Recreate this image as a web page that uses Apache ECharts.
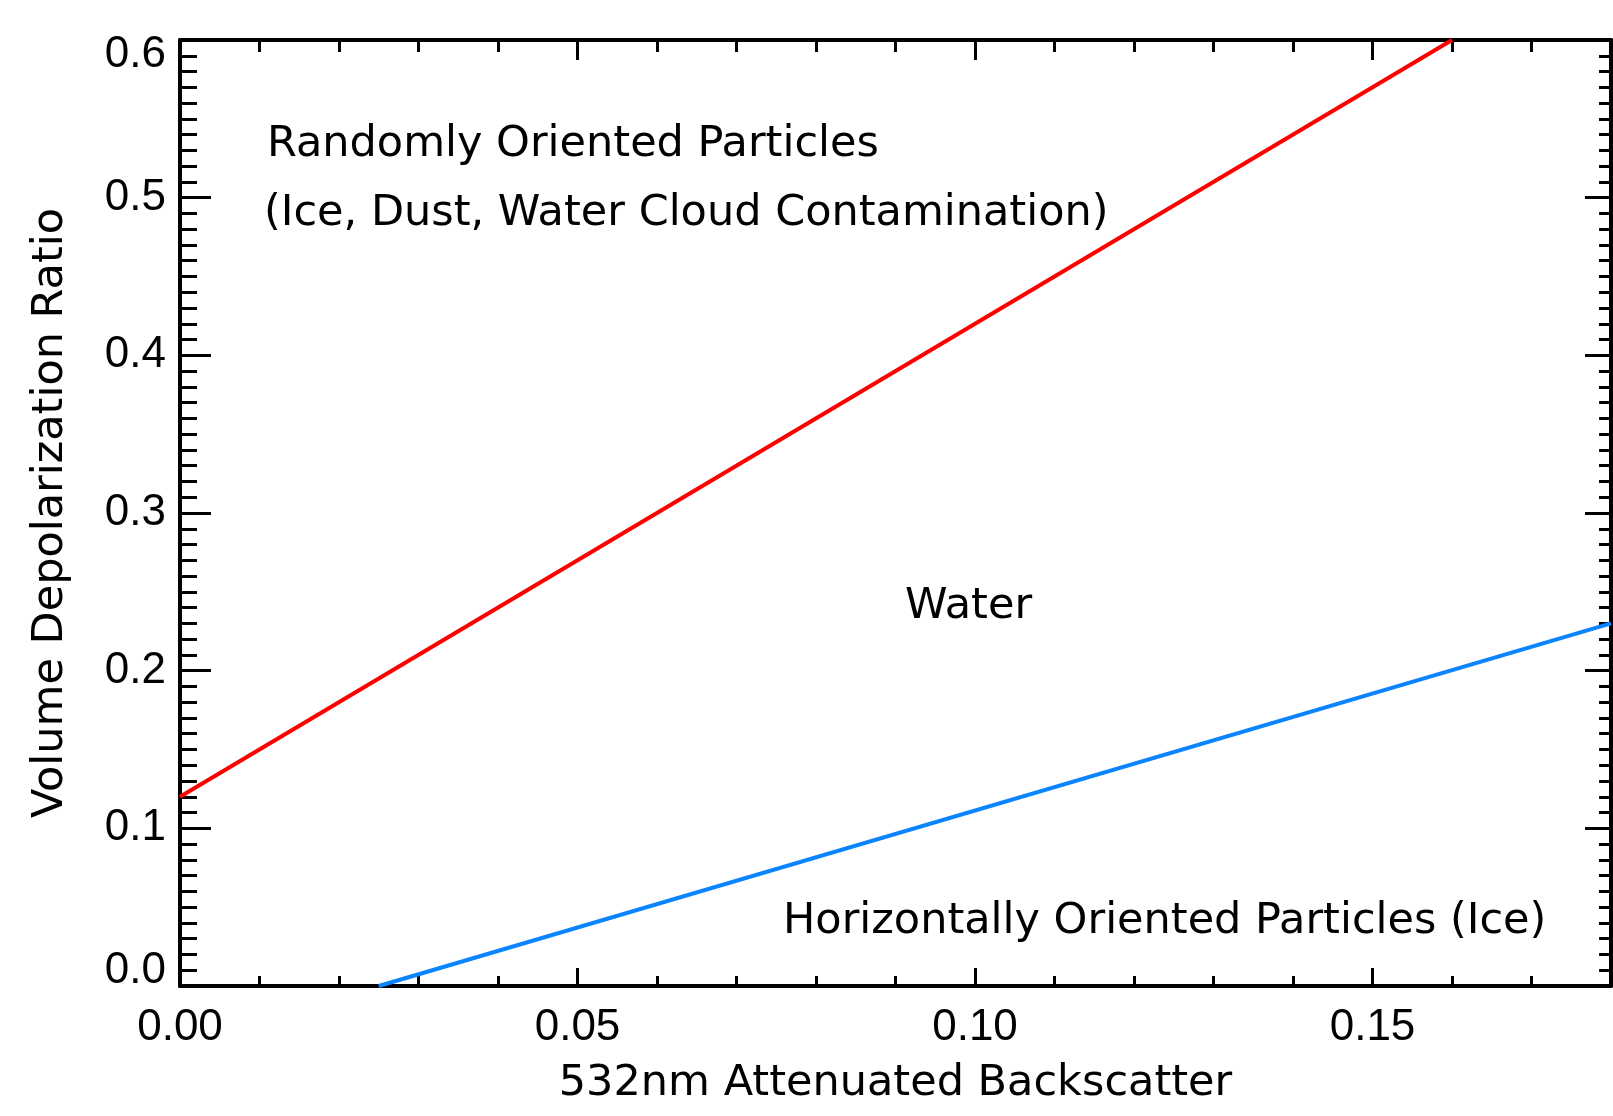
<!DOCTYPE html>
<html>
<head>
<meta charset="utf-8">
<style>
html,body{margin:0;padding:0;background:#fff;}
#chart{width:1613px;height:1116px;}
</style>
<script src="https://cdn.jsdelivr.net/npm/echarts@6/dist/echarts.min.js"></script>
</head>
<body>
<div id="chart"></div>
<script>
// Data
var xName = '532nm Attenuated Backscatter';
var yName = 'Volume Depolarization Ratio';
var xRange = [0, 0.18];
var yRange = [0, 0.6];
var randomLine = [[0.0, 0.12], [0.16, 0.60]];
var horizLine = [[0.025, 0.0], [0.18, 0.23]];
var regionTexts = [
  'Randomly Oriented Particles',
  '(Ice, Dust, Water Cloud Contamination)',
  'Water',
  'Horizontally Oriented Particles (Ice)'
];

var FONT = 'Liberation Sans';
var TFONT = 'DejaVu Sans';
var FS = 44;
var TFS = 43;
var chart = echarts.init(document.getElementById('chart'), null, {renderer: 'canvas'});

function axisBase() {
  return {
    axisLine: {show: true, onZero: false, lineStyle: {color: '#000', width: 4}},
    splitLine: {show: false}
  };
}
function tstyle(t) {
  return {text: t, font: TFS + 'px "' + TFONT + '"', fill: '#000', verticalAlign: 'middle'};
}

var option = {
  animation: false,
  backgroundColor: '#fff',
  grid: {left: 180, top: 40, right: 2, bottom: 130, containLabel: false},
  xAxis: [
    Object.assign(axisBase(), {
      type: 'value', position: 'bottom', min: xRange[0], max: xRange[1], interval: 0.05,
      name: xName, nameLocation: 'middle', nameGap: 76,
      nameTextStyle: {fontFamily: TFONT, fontSize: TFS, color: '#000'},
      axisTick: {show: true, inside: true, length: 18, lineStyle: {color: '#000', width: 3}},
      minorTick: {show: true, splitNumber: 5, length: 10, lineStyle: {color: '#000', width: 3}},
      axisLabel: {show: true, margin: 20, fontFamily: FONT, fontSize: FS, color: '#000',
        showMaxLabel: false,
        formatter: function (v) { return v.toFixed(2); }}
    }),
    Object.assign(axisBase(), {
      type: 'value', position: 'top', min: xRange[0], max: xRange[1], interval: 0.05,
      axisTick: {show: true, inside: true, length: 20, lineStyle: {color: '#000', width: 3}},
      minorTick: {show: true, splitNumber: 5, length: 12, lineStyle: {color: '#000', width: 3}},
      axisLabel: {show: false}
    })
  ],
  yAxis: [
    Object.assign(axisBase(), {
      type: 'value', position: 'left', min: yRange[0], max: yRange[1], interval: 0.1,
      name: yName, nameLocation: 'middle', nameGap: 108, nameRotate: 90,
      nameTextStyle: {fontFamily: TFONT, fontSize: TFS, color: '#000'},
      axisTick: {show: true, inside: true, length: 31, lineStyle: {color: '#000', width: 3}},
      minorTick: {show: true, splitNumber: 10, length: 17, lineStyle: {color: '#000', width: 3}},
      axisLabel: {show: true, margin: 14, fontFamily: FONT, fontSize: FS, color: '#000',
        lineHeight: 30,
        verticalAlignMinLabel: 'bottom', verticalAlignMaxLabel: 'top',
        formatter: function (v) { return v.toFixed(1); }}
    }),
    Object.assign(axisBase(), {
      type: 'value', position: 'right', min: yRange[0], max: yRange[1], interval: 0.1,
      axisTick: {show: true, inside: true, length: 26, lineStyle: {color: '#000', width: 3}},
      minorTick: {show: true, splitNumber: 10, length: 12, lineStyle: {color: '#000', width: 3}},
      axisLabel: {show: false}
    })
  ],
  series: [
    {type: 'line', xAxisIndex: 0, yAxisIndex: 0, data: randomLine, showSymbol: false,
     lineStyle: {color: '#ff0000', width: 4}, clip: true, z: 1},
    {type: 'line', xAxisIndex: 0, yAxisIndex: 0, data: horizLine, showSymbol: false,
     lineStyle: {color: '#0a84ff', width: 4}, clip: true, z: 1}
  ],
  graphic: [
    {type: 'text', left: 267, top: 123, style: tstyle(regionTexts[0]), z: 10},
    {type: 'text', left: 264, top: 192, style: tstyle(regionTexts[1]), z: 10},
    {type: 'text', left: 905, top: 585, style: tstyle(regionTexts[2]), z: 10},
    {type: 'text', left: 783, top: 900, style: tstyle(regionTexts[3]), z: 10}
  ]
};
chart.setOption(option);
</script>
</body>
</html>
